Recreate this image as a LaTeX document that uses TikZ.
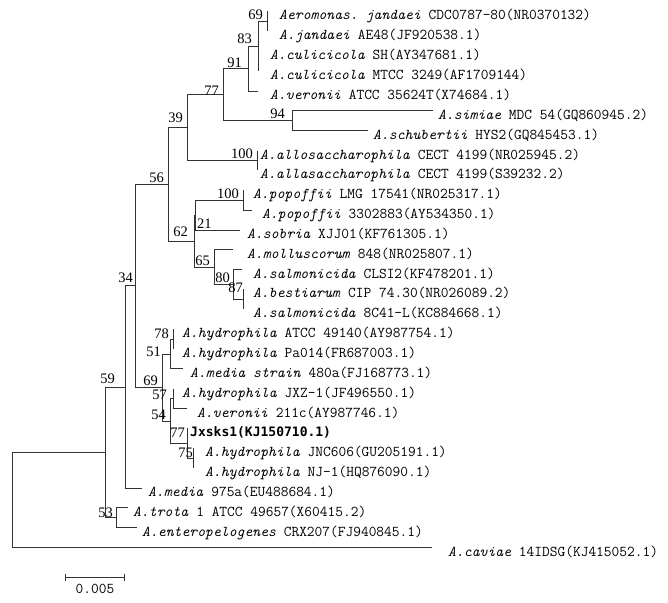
\documentclass[tikz,border=0pt]{standalone}
\usepackage{fontspec}
\newfontfamily\bootfamily{Liberation Serif}
\newfontfamily\strongfamily{DejaVu Sans Mono}
\usetikzlibrary{arrows.meta,positioning}

\newcommand{\species}[2]{\textit{#1}#2}

\begin{document}
\begin{tikzpicture}[x=1pt,y=-1pt]
    \tikzset{branch/.style={draw=black!80, line width=0.75pt},
      taxon/.style={anchor=base west, inner sep=0pt,
        font=\fontsize{15}{17}\selectfont\ttfamily},
      boot/.style={anchor=south east, inner sep=0pt, xshift=-4pt, yshift=1.5pt,
        font=\fontsize{14.5}{16}\selectfont\bootfamily}
    }
\path[use as bounding box] (0,0) rectangle (668,602);

% inner nodes
\coordinate (jand) at (267,21.45);
\coordinate (culi) at (258,46.3);
\coordinate (vero) at (248,68.6);
\coordinate (simi) at (292,120.7);
\coordinate (upper) at (223,94.65);
\coordinate (allo) at (257,160.4);
\coordinate (c39) at (187,127.5);
\coordinate (popo) at (243,200.1);
\coordinate (sobr) at (195,215.0);
\coordinate (best) at (243,299.35);
\coordinate (salm) at (233,284.5);
\coordinate (moll) at (214,267.1);
\coordinate (c62) at (194,241.05);
\coordinate (c56) at (168,184.3);
\coordinate (hyd78) at (173,339.05);
\coordinate (hyd51) at (170,353.9);
\coordinate (hyd57) at (173,398.6);
\coordinate (hyd75) at (193,458.15);
\coordinate (jx77) at (187,443.3);
\coordinate (hyd54) at (170,420.95);
\coordinate (hyd69) at (162,387.4);
\coordinate (c34) at (135,285.85);
\coordinate (c59) at (125,386.9);
\coordinate (trot) at (116,517.7);
\coordinate (ingroup) at (105,452.3);
\coordinate (root) at (12,499.9);

% branch tips
\coordinate (tip1) at (267,11.5);
\coordinate (tip2) at (267,31.4);
\coordinate (tip3) at (258,51.2);
\coordinate (tip4) at (258,71.1);
\coordinate (tip5) at (258,90.9);
\coordinate (tip6) at (433,110.8);
\coordinate (tip7) at (368,130.6);
\coordinate (tip8) at (257,150.5);
\coordinate (tip9) at (257,170.3);
\coordinate (tip10) at (243,190.2);
\coordinate (tip11) at (252,210.0);
\coordinate (tip12) at (240,229.9);
\coordinate (tip13) at (233,249.7);
\coordinate (tip14) at (242,269.6);
\coordinate (tip15) at (243,289.4);
\coordinate (tip16) at (243,309.3);
\coordinate (tip17) at (173,329.1);
\coordinate (tip18) at (173,349.0);
\coordinate (tip19) at (183,368.8);
\coordinate (tip20) at (173,388.7);
\coordinate (tip21) at (187,408.5);
\coordinate (tip22) at (187,428.4);
\coordinate (tip23) at (193,448.2);
\coordinate (tip24) at (193,468.1);
\coordinate (tip25) at (142,487.9);
\coordinate (tip26) at (128,507.8);
\coordinate (tip27) at (137,527.6);
\coordinate (tip28) at (432,547.5);

\foreach \p/\c in {root/ingroup, root/tip28, ingroup/c59, ingroup/trot,
    trot/tip26, trot/tip27, c59/c34, c59/tip25, c34/c56, c34/hyd69,
    hyd69/hyd51, hyd69/hyd54, hyd51/hyd78, hyd51/tip19, hyd78/tip17, hyd78/tip18,
    hyd54/hyd57, hyd54/jx77, hyd57/tip20, hyd57/tip21, jx77/tip22, jx77/hyd75,
    hyd75/tip23, hyd75/tip24, c56/c39, c56/c62, c62/sobr, c62/moll,
    sobr/popo, sobr/tip12, popo/tip10, popo/tip11, moll/tip13, moll/salm,
    salm/tip14, salm/best, best/tip15, best/tip16, c39/upper, c39/allo,
    allo/tip8, allo/tip9, upper/vero, upper/simi, simi/tip6, simi/tip7,
    vero/culi, vero/tip5, culi/jand, culi/tip3, culi/tip4, jand/tip1, jand/tip2}
  \path[branch] (\p) |- (\c);

\node [taxon] (leaf1) at (279,20.0) {\species{Aeromonas.~jandaei}{~CDC0787-80(NR0370132)}};
\node [taxon] (leaf2) at (279,39.9) {\species{A.jandaei}{~AE48(JF920538.1)}};
\node [taxon] (leaf3) at (270,59.7) {\species{A.culicicola}{~SH(AY347681.1)}};
\node [taxon] (leaf4) at (270,79.6) {\species{A.culicicola}{~MTCC~3249(AF1709144)}};
\node [taxon] (leaf5) at (270,99.4) {\species{A.veronii}{~ATCC~35624T(X74684.1)}};
\node [taxon] (leaf6) at (438,119.3) {\species{A.simiae}{~MDC~54(GQ860945.2)}};
\node [taxon] (leaf7) at (373,139.1) {\species{A.schubertii}{~HYS2(GQ845453.1)}};
\node [taxon] (leaf8) at (260,159.0) {\species{A.allosaccharophila}{~CECT~4199(NR025945.2)}};
\node [taxon] (leaf9) at (260,178.8) {\species{A.allasaccharophila}{~CECT~4199(S39232.2)}};
\node [taxon] (leaf10) at (253,198.7) {\species{A.popoffii}{~LMG~17541(NR025317.1)}};
\node [taxon] (leaf11) at (262,218.5) {\species{A.popoffii}{~3302883(AY534350.1)}};
\node [taxon] (leaf12) at (247,238.4) {\species{A.sobria}{~XJJ01(KF761305.1)}};
\node [taxon] (leaf13) at (247,258.2) {\species{A.molluscorum}{~848(NR025807.1)}};
\node [taxon] (leaf14) at (253,278.1) {\species{A.salmonicida}{~CLSI2(KF478201.1)}};
\node [taxon] (leaf15) at (253,297.9) {\species{A.bestiarum}{~CIP~74.30(NR026089.2)}};
\node [taxon] (leaf16) at (253,317.8) {\species{A.salmonicida}{~8C41-L(KC884668.1)}};
\node [taxon] (leaf17) at (182,337.6) {\species{A.hydrophila}{~ATCC~49140(AY987754.1)}};
\node [taxon] (leaf18) at (182,357.5) {\species{A.hydrophila}{~Pa014(FR687003.1)}};
\node [taxon] (leaf19) at (190,377.3) {\species{A.media~strain}{~480a(FJ168773.1)}};
\node [taxon] (leaf20) at (182,397.2) {\species{A.hydrophila}{~JXZ-1(JF496550.1)}};
\node [taxon] (leaf21) at (197,417.0) {\species{A.veronii}{~211c(AY987746.1)}};
\node [taxon, font=\fontsize{13}{15}\selectfont\strongfamily\bfseries] (leaf22) at (190,436.9) {Jxsks1(KJ150710.1)};
\node [taxon] (leaf23) at (205,456.7) {\species{A.hydrophila}{~JNC606(GU205191.1)}};
\node [taxon] (leaf24) at (205,476.6) {\species{A.hydrophila}{~NJ-1(HQ876090.1)}};
\node [taxon] (leaf25) at (148,496.4) {\species{A.media}{~975a(EU488684.1)}};
\node [taxon] (leaf26) at (133,516.3) {\species{A.trota}{~1~ATCC~49657(X60415.2)}};
\node [taxon] (leaf27) at (142,536.1) {\species{A.enteropelogenes}{~CRX207(FJ940845.1)}};
\node [taxon] (leaf28) at (448,556.0) {\species{A.caviae}{~14IDSG(KJ415052.1)}};

% bootstrap values
\node [boot] (bjand) at (jand) {69};
\node [boot, xshift=-2pt, yshift=1.2pt] (bculi) at (culi) {83};
\node [boot, xshift=-2pt, yshift=-0.9pt] (bvero) at (vero) {91};
\node [boot, xshift=-3pt] (bsimi) at (simi) {94};
\node [boot, yshift=-2.7pt] (bupper) at (upper) {77};
\node [boot] (ballo) at (allo) {100};
\node [boot, yshift=3.2pt] (bc39) at (c39) {39};
\node [boot] (bc56) at (c56) {56};
\node [boot, xshift=-2pt, yshift=2.7pt] (bc62) at (c62) {62};
\node [boot] (bpopo) at (popo) {100};
\node [boot, anchor=south west, xshift=6pt, yshift=-15pt] (bsobr) at (sobr) {21};
\node [boot] (bmoll) at (moll) {65};
\node [boot, xshift=1pt] (bsalm) at (salm) {80};
\node [boot, xshift=4pt, yshift=4.7pt] (bbest) at (best) {87};
\node [boot, yshift=-1.5pt] (bhyd78) at (hyd78) {78};
\node [boot, xshift=-5pt, yshift=-4.3pt] (bhyd51) at (hyd51) {51};
\node [boot] (bhyd69) at (hyd69) {69};
\node [boot, xshift=-2pt, yshift=-2.7pt] (bhyd57) at (hyd57) {57};
\node [boot] (bhyd54) at (hyd54) {54};
\node [boot, xshift=2pt, yshift=3.7pt] (bjx77) at (jx77) {77};
\node [boot, xshift=4pt, yshift=-1.3pt] (bhyd75) at (hyd75) {75};
\node [boot, xshift=2pt, yshift=1.7pt] (bc34) at (c34) {34};
\node [boot, xshift=-6pt, yshift=1.7pt] (bc59) at (c59) {59};
\node [boot, xshift=1pt, yshift=-1.6pt] (btrot) at (trot) {53};

% scale bar
\coordinate (sbleft) at (65,577);
\coordinate (sbright) at (125,577);
\coordinate (sbmid) at (95,577);
\path[branch, {Bar[width=7pt]}-{Bar[width=7pt]}] (sbleft) -- (sbright);
\node [below=7pt of sbmid, inner sep=0pt, font=\fontsize{15}{17}\selectfont\ttfamily] (scale) {0.005};
\end{tikzpicture}
\end{document}
